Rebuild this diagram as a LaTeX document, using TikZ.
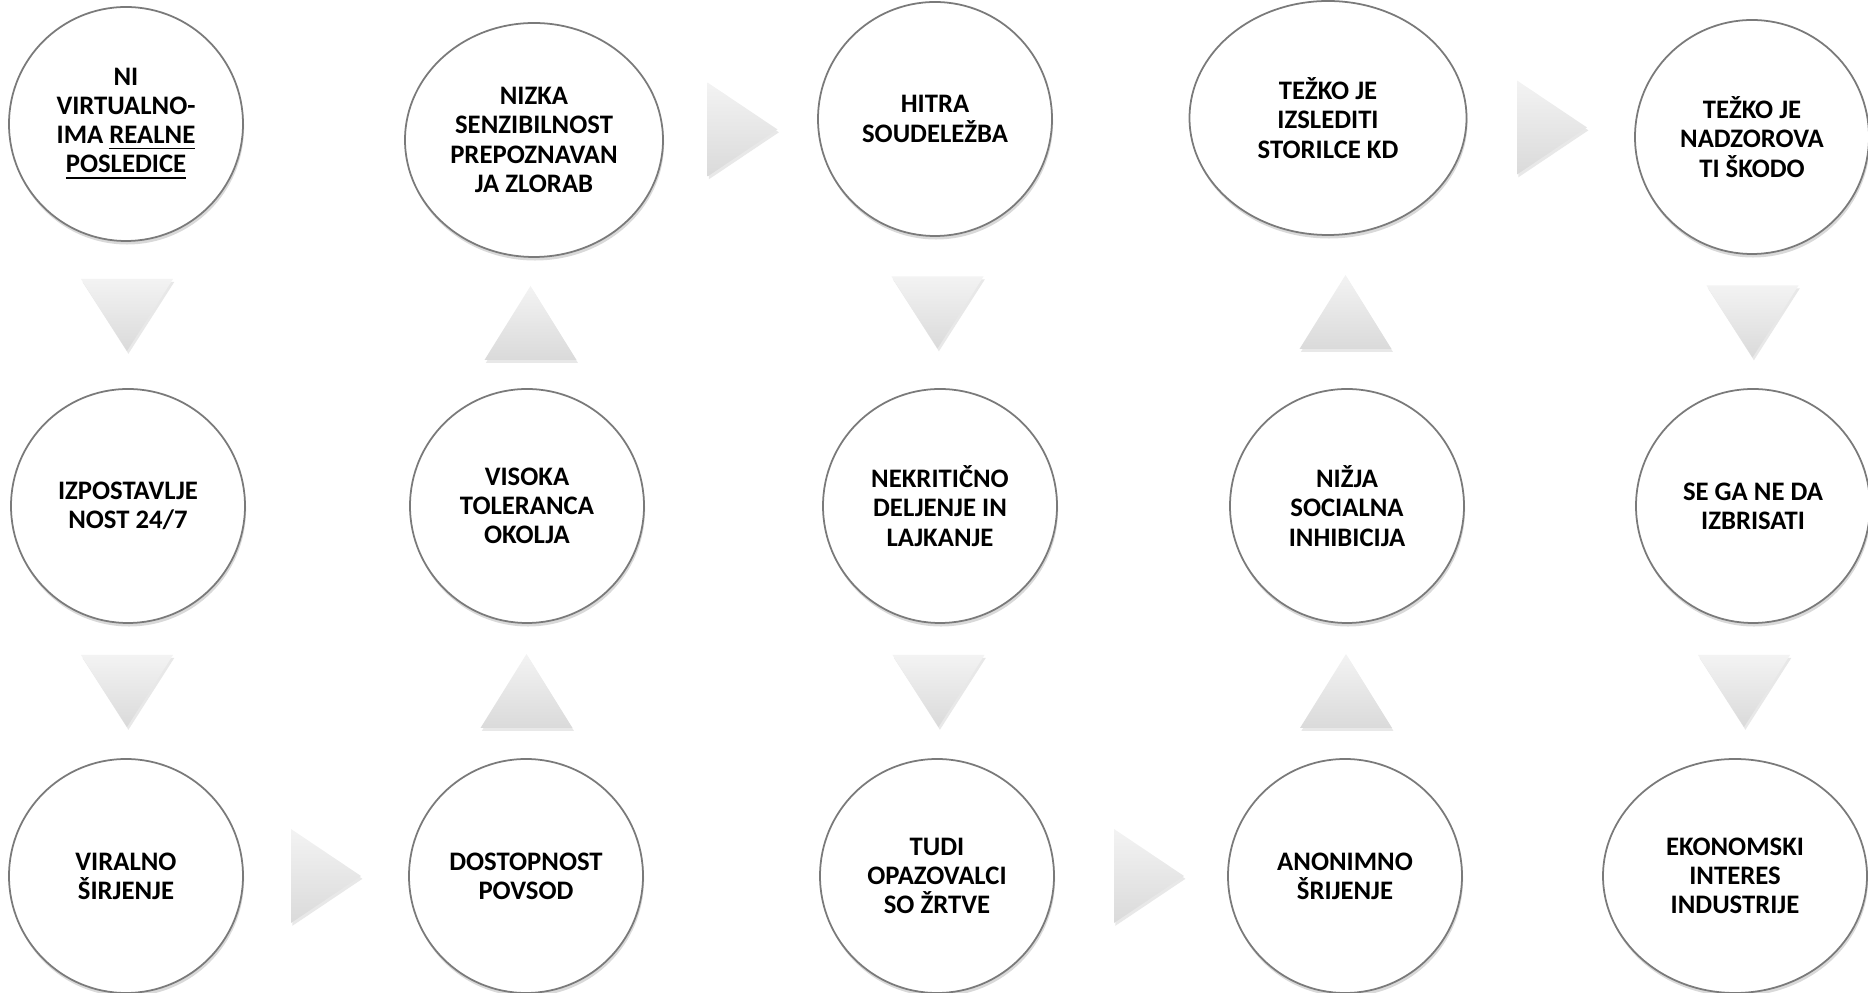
\documentclass[tikz,border=0pt]{standalone}
\usepackage{fontspec}
\setmainfont{Carlito}
\usetikzlibrary{calc, shapes.geometric, shadows}
\definecolor{bRim}{HTML}{7A7A7A}
\definecolor{tLight}{HTML}{F3F3F3}
\definecolor{tDark}{HTML}{DADADA}

\begin{document}
\begin{tikzpicture}[x=0.1mm, y=-0.1mm,
  bub/.style={ellipse, draw=bRim, line width=0.5pt, fill=white, inner sep=0pt,
              minimum width=23.4mm, minimum height=23.4mm, align=center,
              font=\fontsize{7.6}{8.3}\selectfont\bfseries,
              drop shadow={shadow xshift=0.3pt, shadow yshift=-1pt, opacity=0.3}},
  tri/.style={top color=tLight, bottom color=tDark,
              drop shadow={shadow xshift=0.4pt, shadow yshift=-0.8pt, opacity=0.18}},
  pics/tridown/.style={code={\path[tri] (-46,-36) -- (46,-36) -- (0,36) -- cycle;}},
  pics/triup/.style={code={\path[tri] (0,-37) -- (46,37) -- (-46,37) -- cycle;}},
  pics/triright/.style={code={\path[tri] (-35,-47) -- (35,0) -- (-35,47) -- cycle;}}]
  \useasboundingbox (0,0) rectangle (1868,993);
  % top row
  \node[bub] (virt) at (126,124) {NI\\VIRTUALNO-\\IMA \underline{REALNE}\\\underline{POSLEDICE}};
  \node[bub, minimum width=25.8mm] (senz) at (534,140) {NIZKA\\SENZIBILNOST\\PREPOZNAVAN\\JA ZLORAB};
  \node[bub] (hitr) at (935,119) {HITRA\\SOUDELEŽBA};
  \node[bub, minimum width=27.7mm] (izsl) at (1328,118) {TEŽKO JE\\IZSLEDITI\\STORILCE KD};
  \node[bub] (nadz) at (1752,137) {TEŽKO JE\\NADZOROVA\\TI ŠKODO};
  % middle row
  \node[bub] (izpo) at (128,506) {IZPOSTAVLJE\\NOST 24/7};
  \node[bub] (tole) at (527,506) {VISOKA\\TOLERANCA\\OKOLJA};
  \node[bub] (nekr) at (940,506) {NEKRITIČNO\\DELJENJE IN\\LAJKANJE};
  \node[bub] (inhi) at (1347,506) {NIŽJA\\SOCIALNA\\INHIBICIJA};
  \node[bub] (izbr) at (1753,506) {SE GA NE DA\\IZBRISATI};
  % bottom row
  \node[bub] (vira) at (126,876) {VIRALNO\\ŠIRJENJE};
  \node[bub] (dost) at (526,876) {DOSTOPNOST\\POVSOD};
  \node[bub] (tudi) at (937,876) {TUDI\\OPAZOVALCI\\SO ŽRTVE};
  \node[bub] (anon) at (1345,876) {ANONIMNO\\ŠRIJENJE};
  \node[bub, minimum width=26.4mm] (ekon) at (1735,876) {EKONOMSKI\\INTERES\\INDUSTRIJE};
  % arrows between the bubbles
  \pic at ($(virt)!.5!(izpo)$) {tridown};
  \pic at ($(izpo)!.5!(vira)$) {tridown};
  \pic at ($(vira)!.5!(dost)$) {triright};
  \pic at ($(dost)!.5!(tole)$) {triup};
  \pic at ($(tole)!.5!(senz)$) {triup};
  \pic at ($(senz)!.5!(hitr)+(8,0)$) {triright};
  \pic at ($(hitr)!.5!(nekr)$) {tridown};
  \pic at ($(nekr)!.5!(tudi)$) {tridown};
  \pic at ($(tudi)!.5!(anon)+(8,0)$) {triright};
  \pic at ($(anon)!.5!(inhi)$) {triup};
  \pic at ($(inhi)!.5!(izsl)+(8,0)$) {triup};
  \pic at ($(izsl)!.5!(nadz)+(12,0)$) {triright};
  \pic at ($(nadz)!.5!(izbr)$) {tridown};
  \pic at ($(izbr)!.5!(ekon)$) {tridown};
\end{tikzpicture}
\end{document}
